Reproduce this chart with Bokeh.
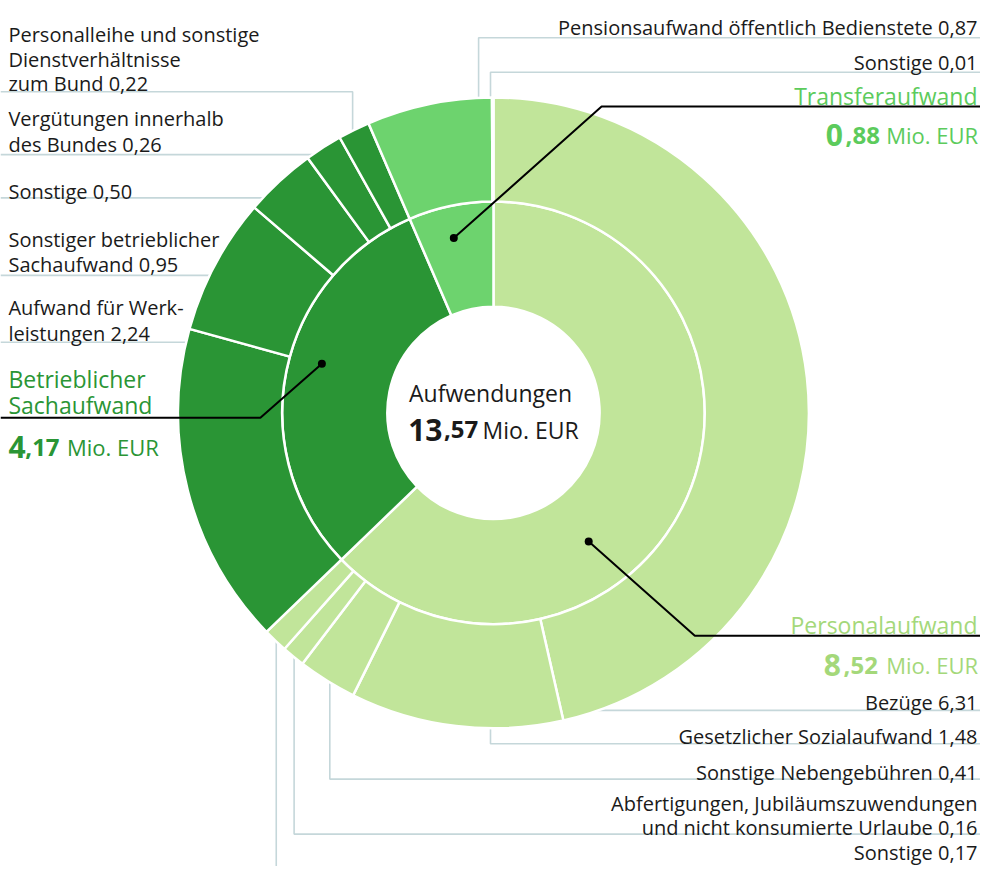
import math
from bokeh.plotting import figure
from bokeh.models import ColumnDataSource, Range1d
from bokeh.core.properties import value
from bokeh.embed import file_html
from bokeh.resources import INLINE

# ---------------- data ----------------
total_title = "Aufwendungen"
total_value = 13.57
unit = "Mio. EUR"

inner_names = ["Personalaufwand", "Betrieblicher\nSachaufwand", "Transferaufwand"]
inner_values = [8.52, 4.17, 0.88]

outer_parent = [0, 0, 0, 0, 0, 1, 1, 1, 1, 1, 2, 2]
outer_names = [
    "Bezüge",
    "Gesetzlicher Sozialaufwand",
    "Sonstige Nebengebühren",
    "Abfertigungen, Jubiläumszuwendungen\nund nicht konsumierte Urlaube",
    "Sonstige",
    "Aufwand für Werk-\nleistungen",
    "Sonstiger betrieblicher\nSachaufwand",
    "Sonstige",
    "Vergütungen innerhalb\ndes Bundes",
    "Personalleihe und sonstige\nDienstverhältnisse\nzum Bund",
    "Pensionsaufwand öffentlich Bedienstete",
    "Sonstige",
]
outer_values = [6.31, 1.48, 0.41, 0.16, 0.17, 2.24, 0.95, 0.50, 0.26, 0.22, 0.87, 0.01]

# ---------------- styles / layout ----------------
inner_fill = ["#c1e59a", "#2a9535", "#6dd36e"]
inner_text_color = ["#a4d87a", "#2a9535", "#5ccb5c"]
leader_gray = "#c5d7da"
FONT = "Open Sans"
SMALL = "20px"
TITLE = "23px"

W, H = 980, 866
CX, CY = 497, 420          # layout coordinates (988 x 882 design grid)
R_HOLE, R_MID, R_OUT = 107, 213, 318


def Y(y):
    return 882 - y


def fmt(v):
    return f"{v:.2f}".replace(".", ",")


p = figure(width=W, height=H, output_backend="svg", toolbar_location=None,
           x_range=Range1d(0, 988), y_range=Range1d(0, 882), min_border=0)
p.axis.visible = False
p.grid.visible = False
p.outline_line_color = None
p.background_fill_color = "white"

# ---------------- angles ----------------
tot_inner = sum(inner_values)
inner_start, inner_end = [], []
acc = 0.0
for v in inner_values:
    inner_start.append(acc / tot_inner)
    acc += v
    inner_end.append(acc / tot_inner)

outer_start, outer_end, outer_fill = [], [], []
for k in range(len(inner_values)):
    idx = [i for i, pp in enumerate(outer_parent) if pp == k]
    s = sum(outer_values[i] for i in idx)
    a = 0.0
    span = inner_end[k] - inner_start[k]
    for i in idx:
        outer_start.append(inner_start[k] + span * a / s)
        a += outer_values[i]
        outer_end.append(inner_start[k] + span * a / s)
        outer_fill.append(inner_fill[k])


def ang(f):
    return math.pi / 2 - 2 * math.pi * f


# ---------------- leader lines (gray, drawn behind ring) ----------------
def pie_x(y, side):
    d = math.sqrt(max(R_OUT ** 2 - (y - CY) ** 2, 0))
    return CX + side * (d - 10)


def pie_y(x, side):
    d = math.sqrt(max(R_OUT ** 2 - (x - CX) ** 2, 0))
    return CY + side * (d - 10)


# label layout per outer slice: (align, x, baselines, leader polyline)
outer_layout = [
    ("right", 985, [715], [(pie_x(723, 1), 723), (988, 723)]),
    ("right", 985, [750], [(494, pie_y(494, 1)), (494, 757), (988, 757)]),
    ("right", 985, [786], [(332, pie_y(332, 1)), (332, 793), (988, 793)]),
    ("right", 985, [818, 842], [(296, pie_y(296, 1)), (296, 849), (988, 849)]),
    ("right", 985, [868], [(278, pie_y(278, 1)), (278, 890)]),
    ("left", 8, [313, 339], [(0, 348), (pie_x(348, -1), 348)]),
    ("left", 8, [243, 269], [(0, 280), (pie_x(280, -1), 280)]),
    ("left", 8, [195], [(0, 201), (pie_x(201, -1), 201)]),
    ("left", 8, [120, 147], [(0, 157), (pie_x(157, -1), 157)]),
    ("left", 8, [35, 60, 85], [(0, 93), (355, 93), (355, pie_y(355, -1))]),
    ("right", 985, [27], [(482, pie_y(482, -1)), (482, 38), (988, 38)]),
    ("right", 985, [63], [(494, pie_y(494, -1)), (494, 73), (988, 73)]),
]

gxs, gys = [], []
for lay in outer_layout:
    pts = lay[3]
    gxs.append([q[0] for q in pts])
    gys.append([Y(q[1]) for q in pts])
p.multi_line(xs=gxs, ys=gys, line_color=leader_gray, line_width=1.6)

# ---------------- rings ----------------
inner_src = ColumnDataSource(dict(
    start=[ang(f) for f in inner_start], end=[ang(f) for f in inner_end],
    color=inner_fill, name=inner_names, val=inner_values))
p.annular_wedge(x=CX, y=Y(CY), inner_radius=R_HOLE, outer_radius=R_MID,
                start_angle="start", end_angle="end", direction="clock",
                fill_color="color", line_color="white", line_width=2.5,
                source=inner_src)

outer_src = ColumnDataSource(dict(
    start=[ang(f) for f in outer_start], end=[ang(f) for f in outer_end],
    color=outer_fill, name=outer_names, val=outer_values))
p.annular_wedge(x=CX, y=Y(CY), inner_radius=R_MID, outer_radius=R_OUT,
                start_angle="start", end_angle="end", direction="clock",
                fill_color="color", line_color="white", line_width=2.5,
                source=outer_src)
p.circle(x=CX, y=Y(CY), radius=R_HOLE, fill_color="white", line_color=None)

# ---------------- outer labels ----------------
for i, lay in enumerate(outer_layout):
    align, x, bases, _ = lay
    lines = outer_names[i].split("\n")
    lines[-1] = lines[-1] + " " + fmt(outer_values[i])
    p.text(x=[x] * len(lines), y=[Y(b) for b in bases], text=lines,
           text_font=value(FONT), text_font_size=SMALL, text_color="#1a1a1a",
           text_align=align, text_baseline="alphabetic")

# ---------------- inner labels ----------------
# (title align, title x, title baselines, value baseline, piece left anchors, dot, corner, end x)
inner_layout = [
    ("right", 985, [636], 677, (830, 850, 893), (593, 551), (700, 647), 988),
    ("left", 8, [385, 412], 455, (8, 25, 67), (324, 370), (262, 425), 0),
    ("right", 985, [97], 137, (832, 852, 893), (457, 242), (606, 108), 988),
]
bx, by = [], []
dx, dy = [], []
for k, lay in enumerate(inner_layout):
    align, tx, tb, vb, pos, dot, corner, ex = lay
    lines = inner_names[k].split("\n")
    p.text(x=[tx] * len(lines), y=[Y(b) for b in tb], text=lines,
           text_font=value(FONT), text_font_size=TITLE,
           text_color=inner_text_color[k], text_align=align,
           text_baseline="alphabetic")
    s = fmt(inner_values[k])
    ip, fp = s.split(",")
    pieces = [(ip, "30px", "bold"), ("," + fp, "24px", "bold"), (unit, "22px", "normal")]
    for (txt, size, style), px in zip(pieces, pos):
        p.text(x=[px], y=[Y(vb)], text=[txt], text_font=value(FONT),
               text_font_size=size, text_font_style=style,
               text_color=inner_text_color[k], text_align="left",
               text_baseline="alphabetic")
    bx.append([dot[0], corner[0], ex])
    by.append([Y(dot[1]), Y(corner[1]), Y(corner[1])])
    dx.append(dot[0])
    dy.append(Y(dot[1]))

p.multi_line(xs=bx, ys=by, line_color="black", line_width=2)
p.scatter(x=dx, y=dy, size=8, fill_color="black", line_color=None)

# ---------------- centre ----------------
p.text(x=[494], y=[Y(400)], text=[total_title], text_font=value(FONT),
       text_font_size="23px", text_color="#1a1a1a", text_align="center",
       text_baseline="alphabetic")
ts = fmt(total_value)
ti, tf = ts.split(",")
for txt, px, size, style in [(ti, 411, "30px", "bold"), ("," + tf, 447, "24px", "bold"),
                             (unit, 486, "23px", "normal")]:
    p.text(x=[px], y=[Y(437)], text=[txt], text_font=value(FONT),
           text_font_size=size, text_font_style=style, text_color="#1a1a1a",
           text_align="left", text_baseline="alphabetic")

open("out.html", "w").write(file_html(p, INLINE))
